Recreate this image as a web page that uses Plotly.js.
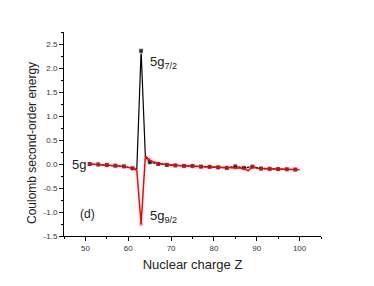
<!DOCTYPE html>
<html><head><meta charset="utf-8">
<script src="https://cdn.plot.ly/plotly-3.0.1.min.js"></script>
<style>html,body{margin:0;padding:0;background:#fff}#chart{width:374px;height:286px}</style>
</head><body><div id="chart"></div>
<script>
// Black series (5g7/2)
const blackZ = [51,53,55,57,59,61,62,63,64,65,67,69,71,73,75,77,79,81,83,85,87,89,91,93,95,97,99];
const blackE = [0.0,-0.01,-0.02,-0.035,-0.05,-0.09,-0.1,2.36,0.15,0.035,0.0,-0.02,-0.03,-0.04,-0.04,-0.055,-0.06,-0.07,-0.08,-0.05,-0.08,-0.055,-0.095,-0.1,-0.105,-0.11,-0.115];
// Red series (5g9/2)
const redZ = [51,52,53,54,55,56,57,58,59,60,61,62,63,64,65,66,67,68,69,70,71,72,73,74,75,76,77,78,79,80,81,82,83,84,85,86,87,88,89,90,91,92,93,94,95,96,97,98,99,100];
const redE = [0.0,-0.005,-0.01,-0.015,-0.02,-0.028,-0.035,-0.04,-0.05,-0.07,-0.09,-0.13,-1.25,0.17,0.08,0.04,0.01,0.0,-0.01,-0.02,-0.03,-0.035,-0.04,-0.04,-0.045,-0.05,-0.055,-0.06,-0.06,-0.065,-0.07,-0.075,-0.08,-0.08,-0.08,-0.085,-0.09,-0.14,-0.06,-0.09,-0.095,-0.1,-0.1,-0.105,-0.105,-0.11,-0.11,-0.115,-0.115,-0.12];
const xTicks = [50,60,70,80,90,100];
const yTicks = [-1.5,-1.0,-0.5,0.0,0.5,1.0,1.5,2.0,2.5];

const blackSizes = blackZ.map(z => (z % 2 === 1) ? 5 : 0);
const redSizes = redZ.map(z => (z % 2 === 1) ? 4 : 0);

const traces = [
  {x: blackZ, y: blackE, mode: 'lines+markers', line: {color: '#000', width: 1.2},
   marker: {symbol: 'square', size: blackSizes, color: '#000'}, hoverinfo: 'none'},
  {x: redZ, y: redE, mode: 'lines+markers', line: {color: '#ff0000', width: 1.5},
   marker: {symbol: 'asterisk-open', size: redSizes, color: 'rgba(255,0,0,0.6)', line: {color: 'rgba(255,0,0,0.6)', width: 1}}, hoverinfo: 'none'}
];

const tickFont = {family: 'Liberation Sans, Arial, sans-serif', size: 8, color: '#333'};
const layout = {
  width: 374, height: 286,
  margin: {l: 64, r: 53, t: 32, b: 50},
  paper_bgcolor: '#fff', plot_bgcolor: '#fff',
  showlegend: false,
  font: {family: 'Liberation Sans, Arial, sans-serif'},
  xaxis: {range: [45, 105], tickvals: xTicks, ticktext: xTicks.map(String), showgrid: false, zeroline: false,
    showline: true, linecolor: '#000', linewidth: 1, ticks: 'outside', ticklen: 4, tickcolor: '#000',
    minor: {dtick: 5, tick0: 45, ticks: 'outside', ticklen: 2, tickcolor: '#000', showgrid: false},
    tickfont: tickFont,
    title: {text: 'Nuclear charge Z', font: {size: 13, color: '#222'}, standoff: 8}},
  yaxis: {range: [-1.5, 2.75], tickvals: yTicks, ticktext: yTicks.map(v => v.toFixed(1)), showgrid: false, zeroline: false,
    showline: true, linecolor: '#000', linewidth: 1, ticks: 'outside', ticklen: 4, tickcolor: '#000',
    minor: {dtick: 0.25, tick0: -1.5, ticks: 'outside', ticklen: 2, tickcolor: '#000', showgrid: false},
    tickfont: tickFont},
  annotations: [
    {x: 0, y: 0, xref: 'paper', yref: 'paper', text: 'Coulomb second-order energy', showarrow: false, textangle: -90,
     xanchor: 'center', yanchor: 'middle', font: {size: 12, color: '#222'}},
    {x: 50.5, y: 0.0, xref: 'x', yref: 'y', text: '5g', showarrow: false, xanchor: 'right', font: {size: 13, color: '#222'}},
    {x: 64.5, y: 2.12, xref: 'x', yref: 'y', text: '5g<sub>7/2</sub>', showarrow: false, xanchor: 'left', font: {size: 13, color: '#222'}},
    {x: 64.5, y: -1.1, xref: 'x', yref: 'y', text: '5g<sub>9/2</sub>', showarrow: false, xanchor: 'left', font: {size: 13, color: '#222'}},
    {x: 50.4, y: -1.05, xref: 'x', yref: 'y', text: '(d)', showarrow: false, font: {size: 12, color: '#222'}}
  ]
};
// convert pixel position of the y-title into paper coordinates
const pw = 374 - 64 - 53, ph = 286 - 32 - 50;
layout.annotations[0].x = (32 - 64) / pw;
layout.annotations[0].y = (286 - 50 - 143) / ph;
Plotly.newPlot('chart', traces, layout, {staticPlot: true, displayModeBar: false});
</script></body></html>
